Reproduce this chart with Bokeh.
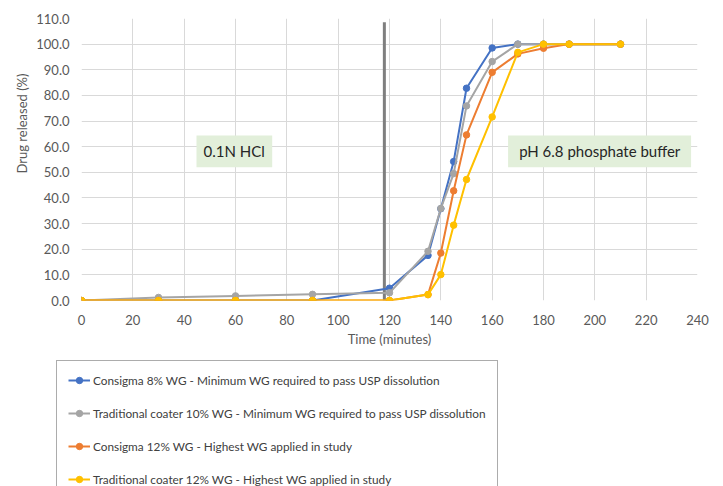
import math
from bokeh.plotting import figure
from bokeh.layouts import column
from bokeh.models import (Range1d, FixedTicker, NumeralTickFormatter, BoxAnnotation,
                          Label, Legend, LegendItem, Title)
from bokeh.embed import file_html
from bokeh.resources import INLINE

# ---------------- data ----------------
time_min = [0, 30, 60, 90, 120, 135, 140, 145, 150, 160, 170, 180, 190, 210]
consigma_8 = [0.0, 0.0, 0.0, 0.0, 4.8, 17.6, 35.8, 54.2, 82.8, 98.5, 100.0, 100.0, 100.0, 100.0]
traditional_10 = [0.0, 1.2, 1.8, 2.4, 3.0, 19.2, 35.9, 49.5, 75.9, 93.2, 100.0, 100.0, 100.0, 100.0]
consigma_12 = [0.0, 0.0, 0.0, 0.0, 0.0, 2.3, 18.5, 42.8, 64.6, 89.0, 96.2, 98.4, 100.0, 100.0]
traditional_12 = [0.0, 0.0, 0.0, 0.0, 0.0, 2.3, 10.1, 29.4, 47.2, 71.6, 96.8, 100.0, 100.0, 100.0]

series_names = [
    "Consigma 8% WG - Minimum WG required to pass USP dissolution",
    "Traditional coater 10% WG - Minimum WG required to pass USP dissolution",
    "Consigma 12% WG - Highest WG applied in study",
    "Traditional coater 12% WG - Highest WG applied in study",
]
series_values = [consigma_8, traditional_10, consigma_12, traditional_12]
series_colors = ["#4472C4", "#A5A5A5", "#ED7D31", "#FFC000"]

x_ticks = list(range(0, 241, 20))
y_ticks = list(range(0, 111, 10))

medium_switch_time = 118
phase_labels = ["0.1N HCl", "pH 6.8 phosphate buffer"]

FONT = "Lato"
GRID = "#D9D9D9"
TXT = "#595959"

# ---------------- main chart ----------------
p = figure(width=723, height=352,
           x_range=Range1d(0, 240), y_range=Range1d(0, 110),
           output_backend="svg", toolbar_location=None,
           min_border_left=81, min_border_right=26,
           min_border_top=18, min_border_bottom=52)
p.frame_align = False
p.background_fill_color = "white"
p.border_fill_color = "white"
p.outline_line_color = None

p.xaxis.ticker = FixedTicker(ticks=x_ticks)
p.yaxis.ticker = FixedTicker(ticks=y_ticks)
p.yaxis.formatter = NumeralTickFormatter(format="0.0")
for ax in (p.xaxis, p.yaxis):
    ax.axis_line_color = None
    ax.major_tick_line_color = None
    ax.minor_tick_line_color = None
    ax.major_tick_out = 0
    ax.major_tick_in = 0
    ax.minor_tick_out = 0
    ax.major_label_text_font = FONT
    ax.major_label_text_font_size = "13px"
    ax.major_label_text_color = TXT
p.xaxis.major_label_standoff = 14
p.yaxis.major_label_standoff = 12
p.xaxis.axis_label = "Time (minutes)"
p.xaxis.axis_label_text_font = FONT
p.xaxis.axis_label_text_font_size = "13px"
p.xaxis.axis_label_text_font_style = "normal"
p.xaxis.axis_label_text_color = TXT
p.xaxis.axis_label_standoff = 3

p.xgrid.grid_line_color = GRID
p.ygrid.grid_line_color = GRID

# y axis title (placed like the original, a little above centre)
p.add_layout(Title(text="Drug released (%)", align="left", offset=127, standoff=8,
                   text_font=FONT, text_font_size="13px", text_font_style="normal",
                   text_color=TXT), "left")

# phase annotation boxes
p.add_layout(BoxAnnotation(left=44.8, right=74.3, bottom=52, top=64.4,
                           fill_color="#E2EFDA", fill_alpha=1, line_color=None))
p.add_layout(BoxAnnotation(left=166.2, right=237.5, bottom=52, top=64.4,
                           fill_color="#E2EFDA", fill_alpha=1, line_color=None))
p.add_layout(Label(x=59.5, y=58.2, text=phase_labels[0], text_align="center",
                   text_baseline="middle", text_font=FONT, text_font_size="15px",
                   text_color="#262626"))
p.add_layout(Label(x=201.9, y=58.2, text=phase_labels[1], text_align="center",
                   text_baseline="middle", text_font=FONT, text_font_size="15px",
                   text_color="#262626"))

# medium change line
p.segment(x0=[medium_switch_time], y0=[0], x1=[medium_switch_time], y1=[108.5],
          line_color="#7F7F7F", line_width=3)

for vals, col in zip(series_values, series_colors):
    p.line(time_min, vals, line_color=col, line_width=2)
    p.scatter(time_min, vals, size=6.5, fill_color=col, line_color=col)

# ---------------- legend panel (same series, drawn outside its view) ----------------
lg = figure(width=723, height=134, x_range=Range1d(1000, 1001), y_range=Range1d(1000, 1001),
            output_backend="svg", toolbar_location=None,
            x_axis_type=None, y_axis_type=None,
            min_border_left=0, min_border_right=0, min_border_top=0, min_border_bottom=0)
lg.frame_align = False
lg.outline_line_color = None
lg.xgrid.visible = False
lg.ygrid.visible = False
lg.background_fill_color = "white"
lg.border_fill_color = "white"

items = []
for name, vals, col in zip(series_names, series_values, series_colors):
    lr = lg.line(time_min, vals, line_color=col, line_width=2)
    sr = lg.scatter(time_min, vals, size=6.5, fill_color=col, line_color=col)
    items.append(LegendItem(label=name, renderers=[lr, sr]))

legend = Legend(items=items, location=(56, -13),
                padding=11, spacing=17, label_height=16, glyph_height=16,
                glyph_width=22, label_standoff=3, margin=0,
                border_line_color="#595959", border_line_width=1,
                background_fill_color="white", background_fill_alpha=1,
                label_text_font=FONT, label_text_font_size="11.8px",
                label_text_color="#404040")
lg.add_layout(legend, "center")

layout = column(p, lg, spacing=0)
open("out.html", "w").write(file_html(layout, INLINE))
